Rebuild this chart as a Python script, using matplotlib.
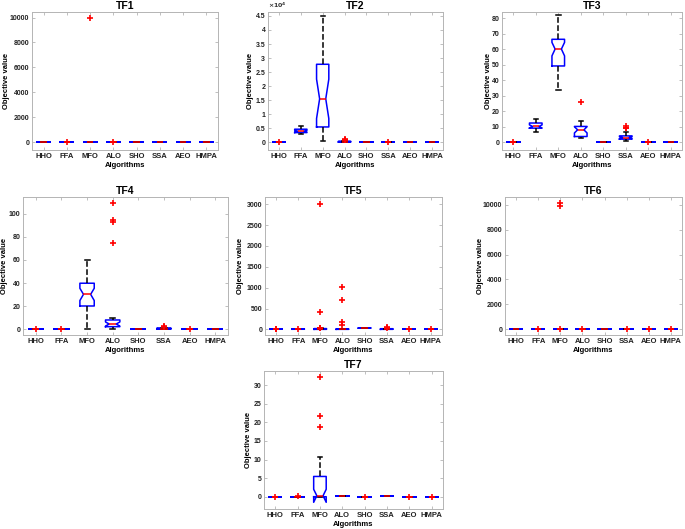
import matplotlib
matplotlib.use('Agg')
import matplotlib.pyplot as plt
from matplotlib.ticker import FuncFormatter

plt.rcParams['font.family'] = ['Liberation Sans', 'DejaVu Sans']
plt.rcParams['font.weight'] = 'bold'

ALGOS = ['HHO', 'FFA', 'MFO', 'ALO', 'SHO', 'SSA', 'AEO', 'HMPA']

# per-function box statistics (q1, median, q3, whiskers, notch, outliers)
TF1_Q1 = [0, 0, 0, 0, 0, 0, 0, 0]
TF1_MED = [0, 0, 0, 0, 0, 0, 0, 0]
TF1_Q3 = [0, 0, 0, 0, 0, 0, 0, 0]
TF1_LO = [0, 0, 0, 0, 0, 0, 0, 0]
TF1_HI = [0, 0, 0, 0, 0, 0, 0, 0]
TF1_FL = [[], [30], [10000], [40], [], [], [], []]

TF2_Q1 = [0, 3500, 5500, 100, 0, 0, 0, 0]
TF2_MED = [0, 4000, 15500, 250, 0, 0, 0, 0]
TF2_Q3 = [0, 4700, 27800, 400, 0, 0, 0, 0]
TF2_LO = [0, 3000, 500, 0, 0, 0, 0, 0]
TF2_HI = [0, 5700, 45000, 600, 0, 0, 0, 0]
TF2_CI = [(0, 0), (3700, 4300), (8500, 22500), (200, 300), (0, 0), (0, 0), (0, 0), (0, 0)]
TF2_FL = [[50], [], [], [800, 950, 1050], [], [50], [], []]

TF3_Q1 = [0, 9.1, 49.2, 3.7, 0, 2.0, 0, 0]
TF3_MED = [0, 10.2, 60.1, 8.0, 0, 3.0, 0, 0]
TF3_Q3 = [0, 12.4, 66.4, 10.2, 0, 4.1, 0, 0]
TF3_LO = [0, 6.3, 34.0, 2.6, 0, 1.1, 0, 0]
TF3_HI = [0, 15.2, 81.8, 13.4, 0, 6.5, 0, 0]
TF3_CI = [(0, 0), (9.2, 11.2), (55.7, 64.4), (6.0, 10.0), (0, 0), (2.4, 3.6), (0, 0), (0, 0)]
TF3_FL = [[0.2], [], [], [25.8], [], [8.9, 9.5, 10.6], [0.3], []]

TF4_Q1 = [0, 0, 20.2, 2.3, 0, 0.3, 0, 0]
TF4_MED = [0, 0, 30.3, 4.6, 0, 0.6, 0, 0]
TF4_Q3 = [0, 0, 39.9, 8.1, 0, 1.0, 0, 0]
TF4_LO = [0, 0, 0, 0, 0, 0, 0, 0]
TF4_HI = [0, 0, 60.1, 10.1, 0, 1.5, 0, 0]
TF4_CI = [(0, 0), (0, 0), (24.9, 35.5), (2.8, 6.4), (0, 0), (0.4, 0.8), (0, 0), (0, 0)]
TF4_FL = [[0.2], [0.2], [], [74.9, 92.8, 94.5, 109], [], [2.0, 2.5], [0.2], []]

TF5_Q1 = [0, 2, 0, 0, 28, 0, 0, 0]
TF5_MED = [0, 5, 8, 4, 32, 6, 0, 0]
TF5_Q3 = [0, 12, 18, 10, 36, 15, 0, 0]
TF5_LO = [0, 0, 0, 0, 26, 0, 0, 0]
TF5_HI = [0, 15, 22, 14, 38, 20, 0, 0]
TF5_CI = [(0, 0), (3, 7), (4, 12), (2, 6), (30, 34), (3, 9), (0, 0), (0, 0)]
TF5_FL = [[3, 10], [20], [25, 30, 410, 3020], [100, 180, 700, 1010], [], [30, 55], [5], [8]]

TF6_Q1 = [0, 0, 0, 0, 0, 0, 0, 0]
TF6_MED = [0, 0, 0, 0, 0, 0, 0, 0]
TF6_Q3 = [0, 0, 0, 0, 0, 0, 0, 0]
TF6_LO = [0, 0, 0, 0, 0, 0, 0, 0]
TF6_HI = [0, 0, 0, 0, 0, 0, 0, 0]
TF6_FL = [[], [20], [30, 9900, 10100], [30], [], [20], [30], [20]]

TF7_Q1 = [0, 0, 0, 0.1, 0, 0.1, 0, 0]
TF7_MED = [0, 0, 0.27, 0.1, 0, 0.1, 0, 0]
TF7_Q3 = [0, 0, 5.45, 0.1, 0, 0.1, 0, 0]
TF7_LO = [0, 0, 0, 0.1, 0, 0.1, 0, 0]
TF7_HI = [0, 0, 10.8, 0.1, 0, 0.1, 0, 0]
TF7_CI = [(0, 0), (0, 0), (-1.5, 2.0), (0.1, 0.1), (0, 0), (0.1, 0.1), (0, 0), (0, 0)]
TF7_FL = [[0.05], [0.1], [18.8, 21.7, 32.2], [], [0.05], [], [0.05], [0.05]]

ZERO_CI = [(0, 0)] * 8

# name, stats, axes rect in px (left, right, top, bottom), ylabel centre x px, ylim, ytick step
PANELS = [
    ('TF1', (TF1_Q1, TF1_MED, TF1_Q3, TF1_LO, TF1_HI, ZERO_CI, TF1_FL), (32, 218, 12, 150), 7, (-640, 10450), 2000),
    ('TF2', (TF2_Q1, TF2_MED, TF2_Q3, TF2_LO, TF2_HI, TF2_CI, TF2_FL), (268, 443, 12, 150), 250, (-2700, 46400), 5000),
    ('TF3', (TF3_Q1, TF3_MED, TF3_Q3, TF3_LO, TF3_HI, TF3_CI, TF3_FL), (502, 682, 12, 150), 489, (-5, 84), 10),
    ('TF4', (TF4_Q1, TF4_MED, TF4_Q3, TF4_LO, TF4_HI, TF4_CI, TF4_FL), (23, 228, 197, 335), 5, (-4.9, 114.5), 20),
    ('TF5', (TF5_Q1, TF5_MED, TF5_Q3, TF5_LO, TF5_HI, TF5_CI, TF5_FL), (265, 442, 197, 335), 241, (-136, 3176), 500),
    ('TF6', (TF6_Q1, TF6_MED, TF6_Q3, TF6_LO, TF6_HI, ZERO_CI, TF6_FL), (505, 682, 197, 335), 480, (-453, 10613), 2000),
    ('TF7', (TF7_Q1, TF7_MED, TF7_Q3, TF7_LO, TF7_HI, TF7_CI, TF7_FL), (264, 443, 371, 509), 248, (-3.3, 33.8), 5),
]

W, H = 685, 529
fig = plt.figure(figsize=(W / 100, H / 100), dpi=100)
GRAY = '#b4b4b4'

for name, (q1, med, q3, lo, hi, ci, fl), (l, r, t, b), ylx, ylim, step in PANELS:
    ax = fig.add_axes([l / W, 1 - b / H, (r - l) / W, (b - t) / H])
    stats = []
    for i, a in enumerate(ALGOS):
        stats.append(dict(label=a, q1=q1[i], med=med[i], q3=q3[i], whislo=lo[i], whishi=hi[i],
                          cilo=ci[i][0], cihi=ci[i][1], fliers=fl[i]))
    ax.bxp(stats, shownotches=True, widths=0.56, capwidths=0.2,
           boxprops=dict(color='blue', lw=1.1),
           medianprops=dict(color='red', lw=1.1),
           whiskerprops=dict(color='black', lw=1.1, ls='--'),
           capprops=dict(color='black', lw=1.1),
           flierprops=dict(marker='+', markeredgecolor='red', markersize=4.5, mew=1.2))
    ax.set_xlim(0.5, 8.5)
    ax.set_ylim(*ylim)
    ax.set_yticks([v for v in range(0, int(ylim[1]) + 1, step)])
    if name == 'TF2':
        ax.yaxis.set_major_formatter(FuncFormatter(lambda v, p: '%g' % (v / 1e4)))
        ax.text(0, 1.012, r'$\times10^{4}$', transform=ax.transAxes, fontsize=4.5, color='#333333',
                ha='left', va='bottom')
    ax.set_title(name, fontsize=7.5, fontweight='bold', pad=2)
    ax.set_xlabel('Algorithms', fontsize=5.5, fontweight='bold', labelpad=1.5)
    ax.set_ylabel('Objective value', fontsize=5.5, fontweight='bold')
    # ylabel is anchored by its right edge; shift so its centre sits at ylx
    ax.yaxis.set_label_coords((ylx + 3.5 - l) / (r - l), 0.5)
    ax.tick_params(direction='in', top=True, right=True, length=2, width=0.6, color=GRAY, pad=2)
    ax.tick_params(axis='x', labelsize=5.5)
    ax.tick_params(axis='y', labelsize=5)
    for lab in ax.get_xticklabels() + ax.get_yticklabels():
        lab.set_fontweight('bold')
        lab.set_color('#222222')
    for s in ax.spines.values():
        s.set_color(GRAY)
        s.set_linewidth(0.7)

fig.savefig('out.png', dpi=100)
